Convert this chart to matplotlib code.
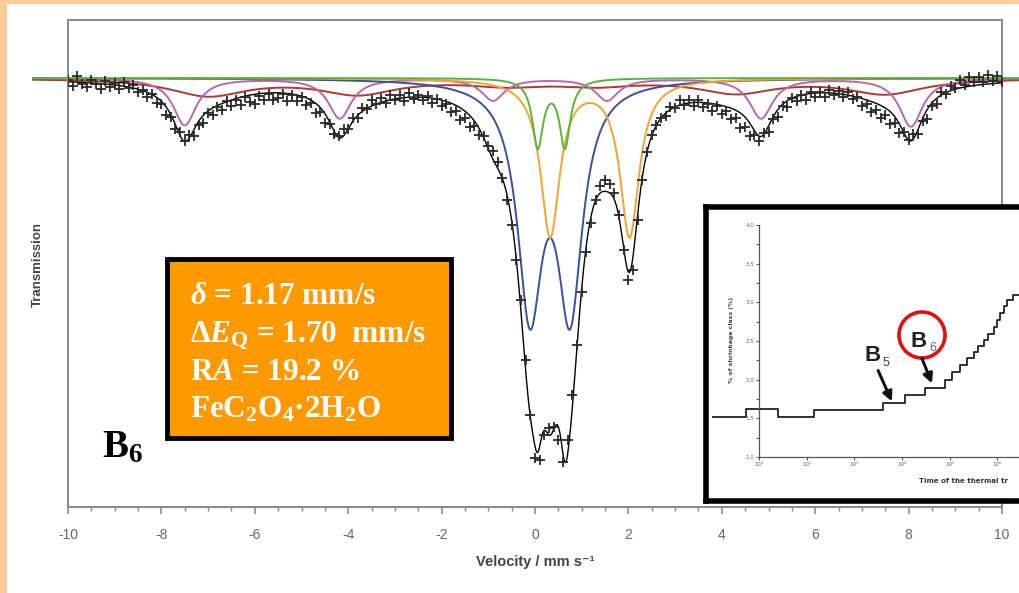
import numpy as np
import matplotlib
matplotlib.use("Agg")
import matplotlib.pyplot as plt
from matplotlib.patches import Rectangle, Ellipse, FancyArrowPatch

# mathtext in bold Times-like serif for the orange info box
plt.rcParams['mathtext.fontset'] = 'custom'
plt.rcParams['mathtext.rm'] = 'Liberation Serif:bold'
plt.rcParams['mathtext.it'] = 'Liberation Serif:italic:bold'
plt.rcParams['mathtext.bf'] = 'Liberation Serif:bold'
plt.rcParams['axes.unicode_minus'] = False

# ---- measured spectrum (velocity in mm/s, transmission in %) ----
velocity = np.round(np.arange(-10.0, 10.05, 0.1), 2)
transmission = [
    99.90, 99.59, 100.10, 99.69, 99.53, 99.90, 99.69, 99.43, 99.84, 99.53,
    99.74, 99.43, 99.79, 99.48, 99.64, 99.28, 99.38, 99.02, 99.17, 98.71,
    98.65, 98.09, 97.98, 97.36, 97.21, 96.74, 97.05, 97.00, 97.57, 97.67,
    98.19, 98.09, 98.50, 98.34, 98.81, 98.55, 98.86, 98.60, 99.02, 98.76,
    98.65, 99.07, 98.86, 99.17, 98.86, 98.97, 99.17, 98.81, 99.12, 98.81,
    99.02, 98.60, 98.71, 98.19, 98.24, 97.67, 97.62, 97.10, 97.00, 97.36,
    97.36, 97.93, 97.93, 98.45, 98.40, 98.86, 98.65, 98.97, 98.71, 99.12,
    98.86, 99.12, 98.81, 99.22, 98.91, 99.12, 98.86, 99.07, 98.71, 98.91,
    98.55, 98.65, 98.24, 98.29, 97.83, 97.93, 97.47, 97.52, 97.05, 97.00,
    96.48, 96.22, 95.65, 94.83, 93.69, 92.40, 90.58, 88.52, 85.41, 82.57,
    80.34, 80.24, 81.53, 81.89, 81.95, 81.27, 80.13, 81.27, 83.60, 86.19,
    88.93, 91.00, 92.50, 93.69, 94.41, 94.72, 94.52, 94.05, 92.91, 91.10,
    89.55, 90.07, 92.65, 94.72, 96.17, 97.05, 97.57, 97.93, 98.03, 98.50,
    98.45, 98.86, 98.60, 98.86, 98.55, 98.86, 98.50, 98.65, 98.29, 98.55,
    98.14, 98.29, 97.88, 97.93, 97.41, 97.47, 97.00, 97.05, 96.74, 97.15,
    97.21, 97.88, 97.98, 98.55, 98.50, 98.97, 98.81, 99.12, 98.86, 99.28,
    99.02, 99.28, 99.02, 99.38, 99.12, 99.33, 99.02, 99.28, 98.91, 99.02,
    98.55, 98.65, 98.24, 98.34, 97.93, 98.09, 97.62, 97.67, 97.15, 97.21,
    96.79, 97.10, 97.10, 97.78, 97.88, 98.55, 98.65, 99.28, 99.17, 99.59,
    99.48, 99.90, 99.64, 100.05, 99.79, 100.05, 99.79, 100.16, 99.84, 100.10,
    99.79,
]

# ---- fitted sub-spectra: line positions (mm/s), depths (%), half widths ----
blue_pos = [-0.11, 0.75]
blue_depth = [11.6, 11.6]
blue_hw = 0.32

orange_pos = [0.325, 2.025]       # delta = 1.17, dEQ = 1.70
orange_depth = [8.1, 8.1]
orange_hw = 0.25

green_pos = [0.06, 0.64]
green_depth = [3.5, 3.5]
green_hw = 0.14

magenta_pos = [-7.50, -4.18, -0.90, 1.54, 4.84, 8.05]
magenta_depth = [2.43, 2.07, 1.14, 1.14, 2.07, 2.50]
magenta_hw = 0.30

brown_pos = [-7.0, -3.8, -0.6, 1.3, 4.3, 7.5]
brown_depth = [0.88, 0.78, 0.31, 0.31, 0.72, 0.78]
brown_hw = 1.0

# ---- inset (step curve) ----
inset_x = [-1.0, -0.27, 0.40, 1.16, 2.60, 3.07, 3.49, 3.91, 4.05, 4.22, 4.36,
           4.50, 4.60, 4.71, 4.81, 4.92, 5.00, 5.06, 5.14, 5.21, 5.32, 5.80]
inset_y = [1.03, 1.24, 1.03, 1.21, 1.40, 1.60, 1.78, 1.99, 2.20, 2.38, 2.55,
           2.71, 2.86, 3.02, 3.19, 3.36, 3.55, 3.72, 3.90, 4.06, 4.19, 4.19]
inset_xticklabels = ['10¹', '10²', '10³', '10⁴', '10⁵', '10⁶']
inset_yticklabels = ['1.0', '1.5', '2.0', '2.5', '3.0', '3.5', '4.0']

W, H = 1019, 593


def fx(x):
    return x / W


def fy(y):
    return 1 - y / H


def lorentz(v, pos, depth, hw):
    out = np.zeros_like(v)
    for p, d in zip(pos, depth):
        out += d / (1 + ((v - p) / hw) ** 2)
    return out


fig = plt.figure(figsize=(W / 100, H / 100), dpi=100)
fig.patch.set_facecolor('#ffcc99')
fig.add_artist(Rectangle((fx(7), 0), 1, fy(4), transform=fig.transFigure,
                         facecolor='white', edgecolor='none', zorder=-10))

ax = fig.add_axes([fx(68), fy(507), 934 / W, 487 / H])
ax.set_xlim(-10, 10)
ax.set_ylim(77.81, 103.0)

vv = np.linspace(-10.75, 10.5, 1500)
comps = [
    (brown_pos, brown_depth, brown_hw, '#a83c32'),
    (magenta_pos, magenta_depth, magenta_hw, '#b868ad'),
    (blue_pos, blue_depth, blue_hw, '#3b4fa0'),
    (orange_pos, orange_depth, orange_hw, '#f0a535'),
    (green_pos, green_depth, green_hw, '#5ab43c'),
]
total = np.zeros_like(vv)
for pos, dep, hw, col in comps:
    absorb = lorentz(vv, pos, dep, hw)
    total += absorb
    ax.plot(vv, 100 - absorb, color=col, lw=1.4, clip_on=False, zorder=2)
ax.plot(vv, 100 - total, color='black', lw=1.0, zorder=3)
ax.plot(velocity, transmission, linestyle='none', marker='+', ms=6.5, mew=1.3,
        color='#2a2a2a', zorder=4)

for s in ax.spines.values():
    s.set_color('#8c8c8c')
    s.set_linewidth(1.5)
ax.set_yticks([])
ax.set_xticks(np.arange(-10, 11, 2))
ax.set_xticks(np.arange(-10, 10.1, 0.5), minor=True)
ax.tick_params(axis='x', which='both', direction='out', color='#8c8c8c',
               labelcolor='#666666', labelsize=10, pad=10)
ax.tick_params(axis='x', which='major', length=5, width=1.2)
ax.tick_params(axis='x', which='minor', length=3, width=1.0)
for lab in ax.get_xticklabels():
    lab.set_family('Liberation Sans')

fig.text(fx(535), fy(562), 'Velocity / mm s⁻¹', ha='center', va='center',
         fontsize=10.5, fontweight='bold', color='#444444',
         family=['Liberation Sans', 'DejaVu Sans'])
fig.text(fx(38), fy(265), 'Transmission', rotation=90, ha='center',
         va='center', fontsize=9.5, fontweight='bold', color='#444444',
         family='Liberation Sans')

# orange info box
fig.add_artist(Rectangle((fx(167), fy(438)), 284 / W, 179 / H,
                         transform=fig.transFigure, facecolor='#ff9900',
                         edgecolor='black', lw=3.5, zorder=5))
box_lines = [r'$\delta$ = 1.17 mm/s', r'Δ$E_\mathrm{Q}$ = 1.70  mm/s',
             r'R$A$ = 19.2 %', r'FeC$_2$O$_4$·2H$_2$O']
for i, t in enumerate(box_lines):
    fig.text(fx(190), fy(304 + 38 * i), t, ha='left', va='baseline',
             fontsize=22.5, fontweight='bold', color='white',
             family='Liberation Serif', zorder=6)

fig.text(fx(102), fy(457), r'B$_6$', ha='left', va='baseline', fontsize=28,
         fontweight='bold', family='Liberation Serif', color='black', zorder=6)

# inset frame
box = fig.add_axes([fx(706), fy(501), 334 / W, 294 / H], zorder=5)
box.set_xticks([])
box.set_yticks([])
for s in box.spines.values():
    s.set_linewidth(4)
    s.set_color('black')

ins = fig.add_axes([fx(712), fy(457), 333 / W, 232 / H], zorder=6)
ins.patch.set_alpha(0)
ins.set_xlim(-0.99, 6.0)
ins.set_ylim(0, 6)
ins.step(inset_x, inset_y, where='post', color='#222222', lw=1.3)
ins.spines['left'].set_position(('data', 0))
ins.spines['bottom'].set_bounds(0, 6)
ins.spines['top'].set_visible(False)
ins.spines['right'].set_visible(False)
for s in ['left', 'bottom']:
    ins.spines[s].set_color('#555555')
    ins.spines[s].set_linewidth(0.9)
ins.set_xticks(range(6))
ins.set_xticklabels(inset_xticklabels)
ins.set_yticks(range(7))
ins.set_yticklabels(inset_yticklabels)
ins.set_yticks(np.arange(0, 6.01, 0.5), minor=True)
ins.tick_params(which='both', length=2, width=0.8, color='#555555',
                labelsize=4, labelcolor='#666666', pad=1.5)
fig.text(fx(731), fy(340), '% of shrinkage class (%)', rotation=90,
         ha='center', va='center', fontsize=4.5, fontweight='bold',
         color='#444444', zorder=7)
fig.text(fx(919), fy(481), 'Time of the thermal tr', ha='left',
         va='center', fontsize=5, fontweight='bold', color='#333333', zorder=7)

fig.text(fx(865), fy(361), 'B', fontsize=16, fontweight='bold',
         family='Liberation Sans', color='#222222', zorder=7)
fig.text(fx(883), fy(366), '5', fontsize=9, color='#444444',
         family='Liberation Sans', zorder=7)
fig.text(fx(911), fy(347), 'B', fontsize=16, fontweight='bold',
         family='Liberation Sans', color='#222222', zorder=7)
fig.text(fx(929), fy(351), '6', fontsize=9, color='#666666',
         family='Liberation Sans', zorder=7)
fig.add_artist(Ellipse((fx(922), fy(335)), 46 / W, 46 / H,
                       transform=fig.transFigure, fill=False,
                       edgecolor='#e01010', lw=2.6, zorder=8))
for (x0, y0), (x1, y1) in [((877, 368), (893, 404)), ((921, 356), (933, 386))]:
    fig.add_artist(FancyArrowPatch((fx(x0), fy(y0)), (fx(x1), fy(y1)),
                                   transform=fig.transFigure,
                                   arrowstyle='-|>', mutation_scale=14,
                                   lw=2.2, color='#111111', zorder=8))

fig.savefig('out.png', dpi=100, facecolor=fig.get_facecolor())
